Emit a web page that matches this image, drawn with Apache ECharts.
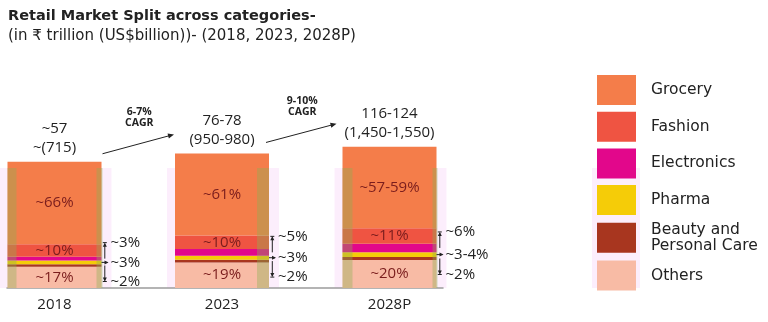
<!DOCTYPE html>
<html>
<head>
<meta charset="utf-8">
<script src="https://cdn.jsdelivr.net/npm/echarts@6/dist/echarts.min.js"></script>
<style>
  html, body { margin: 0; padding: 0; background: #ffffff; }
  #chart { width: 768px; height: 322px; }
</style>
</head>
<body>
<div id="chart"></div>
<script>
// Years on the category axis
const years = ['2018', '2023', '2028P'];

// Share of the retail market by category, in % (ranges use their midpoint)
const grocery = [66, 61, 58];
const fashion = [10, 10, 11];
const electronics = [3, 5, 6];
const pharma = [3, 3, 3.5];
const beauty = [2, 2, 2];
const others = [17, 19, 20];

// Printed share labels
const groceryLabels = ['~66%', '~61%', '~57-59%'];
const fashionLabels = ['~10%', '~10%', '~11%'];
const electronicsLabels = ['~3%', '~5%', '~6%'];
const pharmaLabels = ['~3%', '~3%', '~3-4%'];
const beautyLabels = ['~2%', '~2%', '~2%'];
const othersLabels = ['~17%', '~19%', '~20%'];

// Market size: ₹ trillion and US$ billion
const marketInr = ['~57', '76-78', '116-124'];
const marketUsd = ['~(715)', '(950-980)', '(1,450-1,550)'];

// Growth between consecutive years
const cagrLabels = ['6-7%', '9-10%'];

const legendOrder = ['Grocery', 'Fashion', 'Electronics', 'Pharma', 'Beauty and Personal Care', 'Others'];

const FONT = "'Open Sans', sans-serif";
const WIDE_FONT = "'DejaVu Sans', sans-serif";
const TEXT = '#222222';
const INSIDE_TEXT = '#7a1d1d';
const BAR_W = 94;

// Layers from the bottom of each stack upwards
const layers = [
  { name: 'Others', values: others, labels: othersLabels, color: '#f8bba5', inside: true },
  { name: 'Beauty and Personal Care', values: beauty, labels: beautyLabels, color: '#a8361f' },
  { name: 'Pharma', values: pharma, labels: pharmaLabels, color: '#f5cc08' },
  { name: 'Electronics', values: electronics, labels: electronicsLabels, color: '#e2078b' },
  { name: 'Fashion', values: fashion, labels: fashionLabels, color: '#ef5442', inside: true },
  { name: 'Grocery', values: grocery, labels: groceryLabels, color: '#f47d4a', inside: true }
];

// Each year's stack has its own vertical scale
const yMax = [118.4, 110, 105.3];

const series = [];
years.forEach((year, yi) => {
  layers.forEach(layer => {
    series.push({
      type: 'bar',
      name: layer.name,
      stack: 'year' + yi,
      xAxisIndex: 0,
      yAxisIndex: yi,
      barWidth: BAR_W,
      barGap: '-100%',
      itemStyle: { color: layer.color },
      emphasis: { disabled: true },
      label: layer.inside ? {
        show: true,
        position: 'inside',
        formatter: () => layer.labels[yi],
        color: INSIDE_TEXT,
        fontFamily: FONT,
        fontSize: 15
      } : { show: false },
      data: years.map((_, k) => (k === yi ? layer.values[yi] : '-'))
    });
  });
});

const chart = echarts.init(document.getElementById('chart'), null, { renderer: 'canvas' });

chart.setOption({
  animation: false,
  backgroundColor: '#ffffff',
  title: {
    text: 'Retail Market Split across categories-',
    subtext: '(in \u20b9 trillion (US$billion))- (2018, 2023, 2028P)',
    left: 8,
    top: 9,
    itemGap: 5,
    padding: 0,
    textStyle: { fontFamily: WIDE_FONT, fontSize: 14.5, fontWeight: 'bold', color: TEXT },
    subtextStyle: { fontFamily: WIDE_FONT, fontSize: 15, color: TEXT }
  },
  legend: {
    data: legendOrder,
    orient: 'vertical',
    left: 597,
    top: 75,
    padding: 0,
    itemWidth: 39,
    itemHeight: 30,
    itemGap: 6.7,
    icon: 'rect',
    selectedMode: false,
    formatter: n => (n === 'Beauty and Personal Care' ? 'Beauty and\nPersonal Care' : n),
    textStyle: { fontFamily: WIDE_FONT, fontSize: 15.5, color: TEXT, lineHeight: 16, padding: [0, 0, 0, 10] }
  },
  grid: [
    { left: -29.25, width: 502.5, top: 140, bottom: 34, outerBoundsMode: 'none', containLabel: false },
    { left: 7, width: 436, bottom: 34, height: 1, outerBoundsMode: 'none' }
  ],
  xAxis: [
    {
      type: 'category',
      gridIndex: 0,
      data: years,
      axisLine: { show: false },
      axisTick: { show: false },
      axisLabel: { fontFamily: FONT, fontSize: 15, color: TEXT, margin: 9 }
    },
    {
      type: 'value',
      gridIndex: 1,
      axisLine: { show: true, lineStyle: { color: '#9c9c9c', width: 1.5 } },
      axisTick: { show: false },
      axisLabel: { show: false },
      splitLine: { show: false }
    }
  ],
  yAxis: [
    { type: 'value', gridIndex: 0, min: 0, max: yMax[0], show: false },
    { type: 'value', gridIndex: 0, min: 0, max: yMax[1], show: false },
    { type: 'value', gridIndex: 0, min: 0, max: yMax[2], show: false },
    { type: 'value', gridIndex: 1, show: false }
  ],
  series: series
});

// Annotations placed from the stacks' pixel positions
function toPx(yi, v) {
  return chart.convertToPixel({ xAxisIndex: 0, yAxisIndex: yi }, [yi, v]);
}

function arrowHead(tip, dx, dy, len, half) {
  const l = Math.hypot(dx, dy);
  const ux = dx / l, uy = dy / l;
  const bx = tip[0] - ux * len, by = tip[1] - uy * len;
  return {
    type: 'polygon',
    z: 20,
    shape: { points: [tip, [bx - uy * half, by + ux * half], [bx + uy * half, by - ux * half]] },
    style: { fill: TEXT }
  };
}

function line(x1, y1, x2, y2) {
  return {
    type: 'line',
    z: 20,
    shape: { x1, y1, x2, y2 },
    style: { stroke: TEXT, lineWidth: 1 }
  };
}

function text(x, y, str, opts) {
  return {
    type: 'text',
    z: 20,
    x, y,
    style: Object.assign({
      text: str,
      fontFamily: FONT,
      fontSize: 15,
      fill: TEXT,
      align: 'left',
      verticalAlign: 'middle'
    }, opts || {})
  };
}

function rect(x, y, w, h, fill, z) {
  return { type: 'rect', z, silent: true, shape: { x, y, width: w, height: h }, style: { fill } };
}

const elements = [];
const geo = years.map((_, yi) => {
  const c0 = others[yi];
  const c1 = c0 + beauty[yi];
  const c2 = c1 + pharma[yi];
  const c3 = c2 + electronics[yi];
  const c4 = c3 + fashion[yi];
  const c5 = c4 + grocery[yi];
  const base = toPx(yi, 0);
  const cx = base[0];
  return {
    cx,
    left: cx - BAR_W / 2,
    right: cx + BAR_W / 2,
    baseY: base[1],
    topY: toPx(yi, c5)[1],
    beautyY: toPx(yi, (c0 + c1) / 2)[1],
    pharmaY: toPx(yi, (c1 + c2) / 2)[1],
    elecY: toPx(yi, (c2 + c3) / 2)[1]
  };
});

// faint glow band behind the columns and the lower legend swatches
const GLOW = 'rgba(245, 200, 245, 0.3)';
const SHADE = 'rgba(140, 175, 85, 0.38)';
const bandTop = geo[0].baseY - 120;
elements.push(rect(592, bandTop, 48, 120, GLOW, -1));

// darker edge shading on the columns (offsets from each column's left edge)
const edgeShades = [
  [[0, 9], [89, 6]],
  [[82, 12]],
  [[0, 10], [90, 5]]
];

geo.forEach((g, yi) => {
  elements.push(rect(g.left - 8, bandTop, BAR_W + 18, g.baseY - bandTop, GLOW, -1));
  edgeShades[yi].forEach(([off, w]) => {
    elements.push(rect(g.left + off, bandTop, w, g.baseY - bandTop, SHADE, 5));
  });

  // market size above the stack
  elements.push(text(g.cx, g.topY - 23.5, marketInr[yi] + '\n' + marketUsd[yi], {
    align: 'center', lineHeight: 19
  }));

  // call-outs for the thin layers
  const x0 = g.right + 3.3;
  const lx = g.right + 9;
  const topEnd = g.elecY - 16;
  const botEnd = g.beautyY + 16;

  elements.push(line(x0, g.elecY, x0, topEnd + 1));
  elements.push(line(x0 - 2, topEnd, x0 + 2, topEnd));
  elements.push(arrowHead([x0, topEnd], 0, -1, 4, 2));

  elements.push(line(g.right, g.pharmaY, g.right + 6, g.pharmaY));
  elements.push(arrowHead([g.right + 7, g.pharmaY], 1, 0, 4, 2));

  elements.push(line(x0, g.beautyY, x0, botEnd - 1));
  elements.push(line(x0 - 2, botEnd, x0 + 2, botEnd));
  elements.push(arrowHead([x0, botEnd], 0, 1, 4, 2));

  elements.push(text(lx, topEnd, electronicsLabels[yi]));
  elements.push(text(lx, g.pharmaY, pharmaLabels[yi]));
  elements.push(text(lx, botEnd, beautyLabels[yi]));
});

// growth arrows between the columns
cagrLabels.forEach((lab, i) => {
  const a = geo[i], b = geo[i + 1];
  const sx = a.right + 1 - i * 4, sy = a.topY - 8 - i * 3;
  const ex = b.left - 1 - i * 5, ey = b.topY - 19 - i * 4;
  elements.push(line(sx, sy, ex - 3, ey + (sy - ey) * 3 / (ex - sx)));
  elements.push(arrowHead([ex, ey], ex - sx, ey - sy, 6, 2.5));
  elements.push(text((sx + ex) / 2 + 1, (sy + ey) / 2 - 27, lab + '\nCAGR', {
    align: 'center', fontSize: 10.5, fontWeight: 'bold', lineHeight: 11
  }));
});

chart.setOption({ graphic: { elements } });
</script>
</body>
</html>
